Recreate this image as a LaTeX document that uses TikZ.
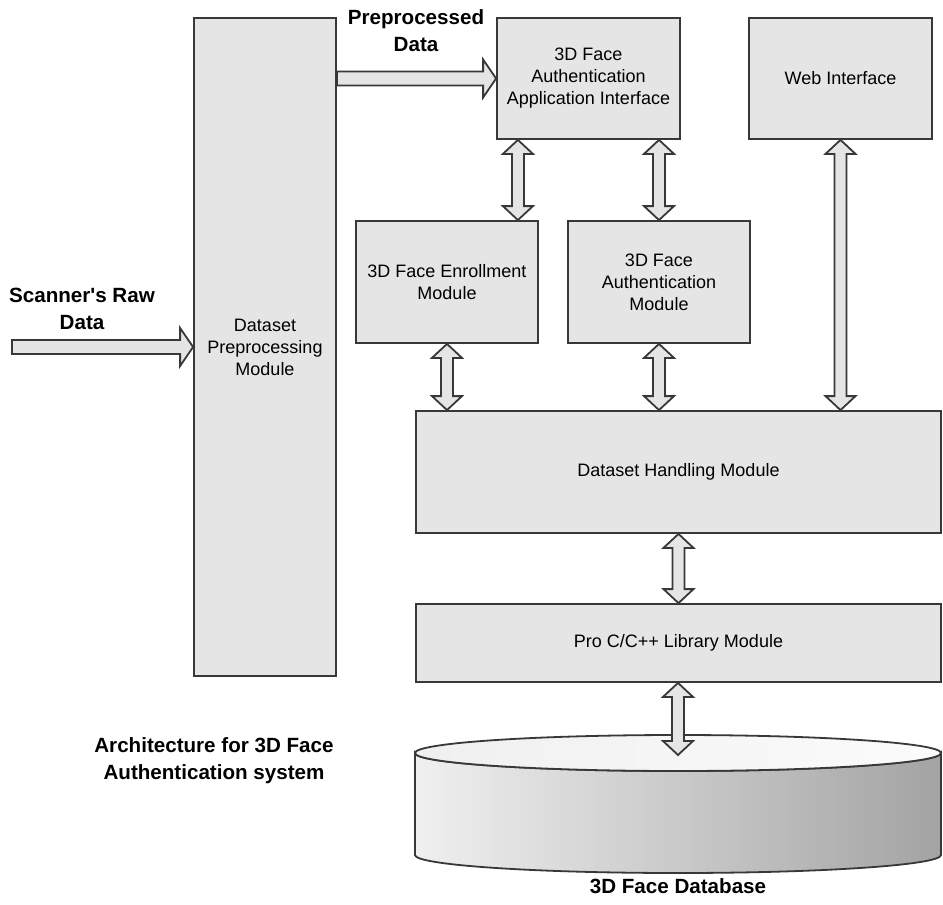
\documentclass[tikz,border=0pt]{standalone}
\usepackage{fontspec}
\setmainfont{Liberation Sans}
\usetikzlibrary{calc}
\definecolor{boxfill}{gray}{0.9}
\definecolor{linecol}{gray}{0.22}

\begin{document}
\begin{tikzpicture}[
    x=0.5pt, y=0.5pt,
    box/.style={draw=linecol, fill=boxfill, line width=0.9pt, inner sep=0pt, align=center, font=\fontsize{9}{11}\selectfont},
    lbl/.style={align=center, font=\fontsize{10.3}{13.5}\selectfont\bfseries},
    dblarr/.style={draw=linecol, fill=boxfill, line width=0.9pt, line join=miter,
      to path={let \p1=(\tikztostart), \p2=(\tikztotarget) in
        -- (\x1+7.5pt,\y1+7pt) -- (\x1+3pt,\y1+7pt) -- (\x1+3pt,\y2-7pt) -- (\x1+7.5pt,\y2-7pt)
        -- (\x1,\y2) -- (\x1-7.5pt,\y2-7pt) -- (\x1-3pt,\y2-7pt) -- (\x1-3pt,\y1+7pt)
        -- (\x1-7.5pt,\y1+7pt) -- cycle}},
    rarr/.style={draw=linecol, fill=boxfill, line width=0.9pt, line join=miter,
      to path={let \p1=(\tikztostart), \p2=(\tikztotarget) in
        (\x1,\y2+3.5pt) -- (\x2-6.5pt,\y2+3.5pt) -- (\x2-6.5pt,\y2+9.5pt) -- (\x2,\y2)
        -- (\x2-6.5pt,\y2-9.5pt) -- (\x2-6.5pt,\y2-3.5pt) -- (\x1,\y2-3.5pt) -- cycle}}
]
    \useasboundingbox (0,0) rectangle (943,-905);

    \node[box, minimum width=71pt, minimum height=329pt] (prep) at (265,-347) {Dataset\\Preprocessing\\Module};
    \node[box, minimum width=91.5pt, minimum height=60.5pt] (app) at (588.5,-78.5) {3D Face\\Authentication\\Application Interface};
    \node[box, minimum width=91.5pt, minimum height=60.5pt] (web) at (840.5,-78.5) {Web Interface};
    \node[box, minimum width=91pt, minimum height=61pt] (enroll) at (447,-282) {3D Face Enrollment\\Module};
    \node[box, minimum width=91pt, minimum height=61pt] (auth) at (659,-282) {3D Face\\Authentication\\Module};
    \node[box, minimum width=262.5pt, minimum height=61pt] (hand) at (678.5,-472) {Dataset Handling Module};
    \node[box, minimum width=262.5pt, minimum height=39pt] (proc) at (678.5,-643) {Pro C/C++ Library Module};

    \shade[left color=gray!12, right color=gray!72, draw=linecol, line width=0.9pt]
        (415,-753) -- (415,-855) arc[start angle=180, end angle=360, x radius=263, y radius=18]
        -- (941,-753) arc[start angle=0, end angle=-180, x radius=263, y radius=18] -- cycle;
    \shade[left color=gray!12, right color=gray!3, draw=linecol, line width=0.9pt]
        (678,-753) ellipse[x radius=263, y radius=18];
    \coordinate (dbtop) at (678,-755);
    \coordinate (rawin) at (12,-345);

    \draw[rarr] (rawin) to (prep.west);
    \draw[rarr] (prep.east |- app.west) to (app.west);
    \draw[dblarr] ([xshift=-10.5pt]enroll.north east) to (app.south);
    \draw[dblarr] (auth.north) to (app.south);
    \draw[dblarr] (enroll.south |- hand.north) to (enroll.south);
    \draw[dblarr] (auth.south |- hand.north) to (auth.south);
    \draw[dblarr] (web.south |- hand.north) to (web.south);
    \draw[dblarr] (proc.north) to (hand.south);
    \draw[dblarr] (dbtop) to (proc.south);

    \node[lbl] (rawlbl) at (82,-309) {Scanner\textquotesingle s Raw\\Data};
    \node[lbl] (pplbl) at (416,-31) {Preprocessed\\Data};
    \node[lbl] (title) at (214,-761) {Architecture for 3D Face\\Authentication system};
    \node[lbl] (dblbl) at (678,-886) {3D Face Database};
\end{tikzpicture}
\end{document}
